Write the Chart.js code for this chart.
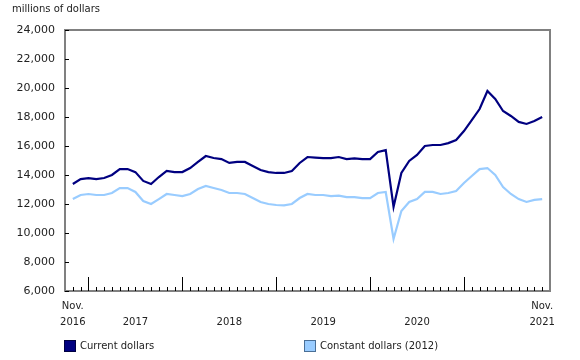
<!DOCTYPE html>
<html>
<head>
<meta charset="utf-8">
<script src="https://cdn.jsdelivr.net/npm/chart.js@4.4.0/dist/chart.umd.min.js"></script>
<style>
    body { margin: 0; background: #fff; }
    #wrap { position: relative; width: 580px; height: 360px; font-family: "DejaVu Sans", Verdana, sans-serif; }
    #grafica { position: absolute; left: 0; top: 0; }
    .item { position: absolute; top: 340px; height: 11px; font-size: 10px; color: #222; line-height: 11px; white-space: nowrap; }
    .swatch { position: absolute; left: 0; top: 0; width: 10px; height: 10px; border: 1px solid #333; }
    .item span.txt { position: absolute; left: 16px; top: 0; }
</style>
</head>
<body>
<div id="wrap">
    <canvas id="grafica" width="580" height="360"></canvas>
    <div class="item" style="left:64px"><div class="swatch" style="background:#000080;border-color:#000040"></div><span class="txt">Current dollars</span></div>
    <div class="item" style="left:304px"><div class="swatch" style="background:#99ccff;border-color:#4a6f96"></div><span class="txt">Constant dollars (2012)</span></div>
</div>
<script>
// monthly, Nov. 2016 to Nov. 2021 (millions of dollars)
const currentDollars = [
    13380, 13720, 13790, 13720, 13790, 14000, 14410, 14410, 14200, 13590, 13380, 13860,
    14280, 14200, 14200, 14480, 14900, 15310, 15170, 15100, 14830, 14900, 14900, 14620,
    14340, 14200, 14140, 14140, 14280, 14830, 15240, 15200, 15170, 15170, 15240, 15100,
    15140, 15100, 15100, 15590, 15720, 11800, 14140, 14970, 15380, 16000, 16070, 16070,
    16200, 16410, 17030, 17790, 18550, 19790, 19240, 18410, 18070, 17660, 17520, 17720,
    18000
];
const constantDollars = [
    12340, 12620, 12690, 12620, 12620, 12760, 13100, 13100, 12830, 12210, 12000, 12340,
    12690, 12620, 12550, 12690, 13030, 13240, 13100, 12970, 12760, 12760, 12690, 12410,
    12140, 12000, 11930, 11900, 12000, 12410, 12690, 12620, 12620, 12550, 12580, 12480,
    12480, 12410, 12410, 12760, 12830, 9590, 11520, 12140, 12340, 12830, 12830, 12690,
    12760, 12900, 13450, 13930, 14410, 14480, 14000, 13170, 12690, 12340, 12140, 12280,
    12340
];
const xTickIndex = [0, 8, 20, 32, 44, 60];
const xTickLabels = [['Nov.', '2016'], ['', '2017'], ['', '2018'], ['', '2019'], ['', '2020'], ['Nov.', '2021']];
const januaryIndex = [2, 14, 26, 38, 50];
const yMin = 6000, yMax = 24000, yStep = 2000;

// ticks pointing inside + top/right frame
const frameTicks = {
    id: 'frameTicks',
    afterDraw(chart) {
        const ctx = chart.ctx;
        const a = chart.chartArea;
        const x = chart.scales.x, y = chart.scales.y;
        ctx.save();
        ctx.strokeStyle = '#808080';
        ctx.lineWidth = 2;
        ctx.beginPath();
        ctx.moveTo(a.left, a.top);
        ctx.lineTo(a.right, a.top);
        ctx.lineTo(a.right, a.bottom);
        ctx.stroke();

        ctx.strokeStyle = '#000';
        ctx.lineWidth = 1;
        ctx.beginPath();
        for (let i = 0; i < currentDollars.length; i++) {
            const px = Math.round(x.getPixelForValue(i)) + 0.5;
            const len = januaryIndex.includes(i) ? 14 : 4;
            ctx.moveTo(px, a.bottom);
            ctx.lineTo(px, a.bottom - len);
        }
        for (let v = yMin; v <= yMax; v += yStep) {
            const py = Math.round(y.getPixelForValue(v)) + 0.5;
            ctx.moveTo(a.left, py);
            ctx.lineTo(a.left + 4, py);
        }
        ctx.stroke();
        ctx.restore();
    }
};

function main() {
    Chart.defaults.font.family = '"DejaVu Sans", Verdana, sans-serif';
    Chart.defaults.color = '#222';
    const ctx = document.getElementById('grafica').getContext('2d');

    const config = {
        type: 'line',
        data: {
            datasets: [{
                label: 'Current dollars',
                data: currentDollars.map((v, i) => ({ x: i, y: v })),
                borderColor: '#000080',
                borderWidth: 2.2,
                pointRadius: 0,
                tension: 0
            }, {
                label: 'Constant dollars (2012)',
                data: constantDollars.map((v, i) => ({ x: i, y: v })),
                borderColor: '#99ccff',
                borderWidth: 2.2,
                pointRadius: 0,
                tension: 0
            }]
        },
        options: {
            responsive: false,
            animation: false,
            layout: { padding: { left: 12, right: 30, top: 0, bottom: 24 } },
            plugins: {
                legend: { display: false },
                tooltip: { enabled: false },
                title: {
                    display: true,
                    text: 'millions of dollars',
                    align: 'start',
                    font: { size: 10, weight: 'normal' },
                    padding: { top: 3, bottom: 15 }
                }
            },
            scales: {
                x: {
                    type: 'linear',
                    min: -1,
                    max: 61,
                    afterBuildTicks: s => { s.ticks = xTickIndex.map(v => ({ value: v })); },
                    afterFit: s => { s.height = 45; },
                    grid: { display: false, drawTicks: false },
                    border: { display: true, color: '#808080', width: 2 },
                    ticks: {
                        autoSkip: false,
                        maxRotation: 0,
                        padding: 7,
                        font: { size: 10, lineHeight: 1.6 },
                        callback: v => {
                            const k = xTickIndex.indexOf(v);
                            return k >= 0 ? xTickLabels[k] : '';
                        }
                    }
                },
                y: {
                    min: yMin,
                    max: yMax,
                    afterFit: s => { s.width = 53; },
                    grid: { display: false, drawTicks: false },
                    border: { display: true, color: '#808080', width: 2 },
                    ticks: {
                        stepSize: yStep,
                        padding: 10,
                        font: { size: 11 },
                        callback: v => v.toLocaleString('en-US')
                    }
                }
            }
        },
        plugins: [frameTicks]
    };

    window.myChart = new Chart(ctx, config);
}

document.addEventListener('DOMContentLoaded', function() {
    main();
});
</script>
</body>
</html>
